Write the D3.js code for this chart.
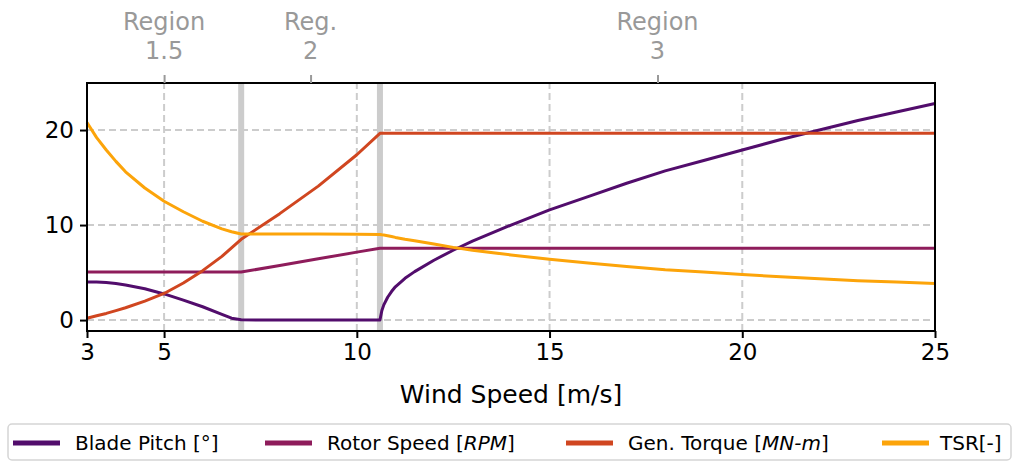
<!DOCTYPE html>
<html>
<head>
<meta charset="utf-8">
<script src="https://cdn.jsdelivr.net/npm/d3@7"></script>
<style>
  body { margin: 0; background: #fff; }
  svg { font-family: "DejaVu Sans", sans-serif; }
</style>
</head>
<body>
<div id="chart"></div>
<script>
const w = 1014
const h = 463

// wind speed samples [m/s]
const wind = [3, 3.25, 3.5, 3.75, 4, 4.5, 5, 5.5, 6, 6.5, 6.75, 7, 8, 9, 10, 10.6, 10.65, 10.7, 10.8, 10.9, 11, 11.25, 11.5, 12, 12.5, 13, 14, 15, 16, 17, 18, 19, 20, 21, 22, 23, 24, 25]
const bladePitch = [4.0, 4.0, 3.95, 3.85, 3.7, 3.3, 2.75, 2.1, 1.4, 0.6, 0.2, 0.03, 0, 0, 0, 0, 1.0, 1.6, 2.4, 3.0, 3.5, 4.4, 5.1, 6.3, 7.35, 8.3, 10.0, 11.6, 13.0, 14.4, 15.7, 16.8, 17.9, 19.0, 20.0, 21.0, 21.9, 22.8]
const rotorSpeed = [5.05, 5.05, 5.05, 5.05, 5.05, 5.05, 5.05, 5.05, 5.05, 5.05, 5.05, 5.05, 5.75, 6.45, 7.15, 7.55, 7.55, 7.55, 7.55, 7.55, 7.55, 7.55, 7.55, 7.55, 7.55, 7.55, 7.55, 7.55, 7.55, 7.55, 7.55, 7.55, 7.55, 7.55, 7.55, 7.55, 7.55, 7.55]
const genTorque = [0.2, 0.45, 0.7, 1.0, 1.3, 2.0, 2.8, 3.9, 5.2, 6.7, 7.6, 8.5, 11.2, 14.1, 17.4, 19.65, 19.65, 19.65, 19.65, 19.65, 19.65, 19.65, 19.65, 19.65, 19.65, 19.65, 19.65, 19.65, 19.65, 19.65, 19.65, 19.65, 19.65, 19.65, 19.65, 19.65, 19.65, 19.65]
const tsr = [20.8, 19.2, 17.9, 16.7, 15.6, 13.9, 12.5, 11.4, 10.4, 9.6, 9.3, 9.05, 9.05, 9.05, 9.02, 9.0, 8.97, 8.95, 8.88, 8.8, 8.7, 8.5, 8.35, 8.0, 7.65, 7.35, 6.85, 6.4, 6.0, 5.65, 5.3, 5.05, 4.8, 4.55, 4.35, 4.15, 4.0, 3.85]

const xTicks = [3, 5, 10, 15, 20, 25]
const yTicks = [0, 10, 20]
const xGrid = [5, 10, 15, 20]
const regionTicks = [5, 8.8, 17.8]
const regionLabels = [['Region', '1.5'], ['Reg.', '2'], ['Region', '3']]
const regionBounds = [7.0, 10.6]

const series = [
  {name: 'Blade Pitch [°]', values: bladePitch, color: '#520d6c'},
  {name: 'Rotor Speed [RPM]', values: rotorSpeed, color: '#8e1c5b'},
  {name: 'Gen. Torque [MN-m]', values: genTorque, color: '#d04620'},
  {name: 'TSR[-]', values: tsr, color: '#fca40a'}
]

const svg = d3.select('#chart')
    .append('svg')
    .attr('width', w)
    .attr('height', h)

const x = d3.scaleLinear().domain([3, 25]).range([87, 935])
const y = d3.scaleLinear().domain([-1.15, 24.95]).range([331, 83])

// grid
svg.append('g')
    .selectAll('line')
    .data(xGrid)
    .enter()
    .append('line')
    .attr('x1', d => x(d)).attr('x2', d => x(d))
    .attr('y1', y.range()[0]).attr('y2', y.range()[1])
    .attr('stroke', '#cccccc').attr('stroke-width', 2).attr('stroke-dasharray', '7,4')

svg.append('g')
    .selectAll('line')
    .data(yTicks)
    .enter()
    .append('line')
    .attr('x1', x.range()[0]).attr('x2', x.range()[1])
    .attr('y1', d => y(d)).attr('y2', d => y(d))
    .attr('stroke', '#cccccc').attr('stroke-width', 2).attr('stroke-dasharray', '7,4')

// region boundaries
svg.append('g')
    .selectAll('line')
    .data(regionBounds)
    .enter()
    .append('line')
    .attr('x1', d => x(d)).attr('x2', d => x(d))
    .attr('y1', y.range()[0]).attr('y2', y.range()[1])
    .attr('stroke', '#cccccc').attr('stroke-width', 6)

// curves
const line = d3.line()
    .x((d, i) => x(wind[i]))
    .y(d => y(d))

svg.append('g')
    .selectAll('path')
    .data(series)
    .enter()
    .append('path')
    .attr('d', d => line(d.values))
    .attr('fill', 'none')
    .attr('stroke', d => d.color)
    .attr('stroke-width', 3)
    .attr('stroke-linejoin', 'round')

// frame
svg.append('rect')
    .attr('x', x.range()[0]).attr('y', y.range()[1])
    .attr('width', x.range()[1] - x.range()[0])
    .attr('height', y.range()[0] - y.range()[1])
    .attr('fill', 'none').attr('stroke', '#000').attr('stroke-width', 2)

// axes
const xAxis = svg.append('g')
    .attr('transform', `translate(0,${y.range()[0]})`)
    .call(d3.axisBottom(x).tickValues(xTicks).tickSize(7).tickPadding(6).tickFormat(d3.format('d')))
const yAxis = svg.append('g')
    .attr('transform', `translate(${x.range()[0]},0)`)
    .call(d3.axisLeft(y).tickValues(yTicks).tickSize(7).tickPadding(6))

;[xAxis, yAxis].forEach(g => {
  g.select('.domain').remove()
  g.selectAll('line').attr('stroke', '#000').attr('stroke-width', 2)
  g.selectAll('text').attr('font-size', 23).attr('fill', '#000').attr('font-family', 'DejaVu Sans')
})

const topAxis = svg.append('g')
    .attr('transform', `translate(0,${y.range()[1]})`)
    .call(d3.axisTop(x).tickValues(regionTicks).tickSize(8).tickFormat(''))
topAxis.select('.domain').remove()
topAxis.selectAll('line').attr('stroke', '#999').attr('stroke-width', 2)

svg.append('g')
    .selectAll('text')
    .data(regionTicks)
    .enter()
    .append('text')
    .attr('x', d => x(d))
    .attr('text-anchor', 'middle')
    .attr('font-size', 24)
    .attr('fill', '#999')
    .each(function (d, i) {
      d3.select(this).selectAll('tspan')
        .data(regionLabels[i])
        .enter()
        .append('tspan')
        .attr('x', x(d))
        .attr('y', (t, j) => 30 + j * 29)
        .text(t => t)
    })

svg.append('text')
    .attr('x', (x.range()[0] + x.range()[1]) / 2)
    .attr('y', 403)
    .attr('text-anchor', 'middle')
    .attr('font-size', 25)
    .text('Wind Speed [m/s]')

// legend
const legend = svg.append('g')
legend.append('rect')
    .attr('x', 8).attr('y', 424).attr('width', 1003).attr('height', 36)
    .attr('rx', 4)
    .attr('fill', '#fff').attr('stroke', '#d5d5d5').attr('stroke-width', 1.5)

const legendX = [13, 265, 566, 882]
const item = legend.selectAll('g.item')
    .data(series)
    .enter()
    .append('g')
    .attr('class', 'item')
    .attr('transform', (d, i) => `translate(${legendX[i]},443)`)

item.append('line')
    .attr('x1', 0).attr('x2', 47)
    .attr('stroke', d => d.color).attr('stroke-width', 5)

const legText = item.append('text')
    .attr('x', d => d.name === 'TSR[-]' ? 58 : 62)
    .attr('y', 7)
    .attr('font-size', 20)

legText.each(function (d) {
  const t = d3.select(this)
  const m = d.name.match(/^(.*\[)(RPM|MN-m)(\])$/)
  if (m) {
    t.append('tspan').text(m[1])
    t.append('tspan').attr('font-style', 'italic').text(m[2])
    t.append('tspan').text(m[3])
  } else {
    t.text(d.name)
  }
})
</script>
</body>
</html>
